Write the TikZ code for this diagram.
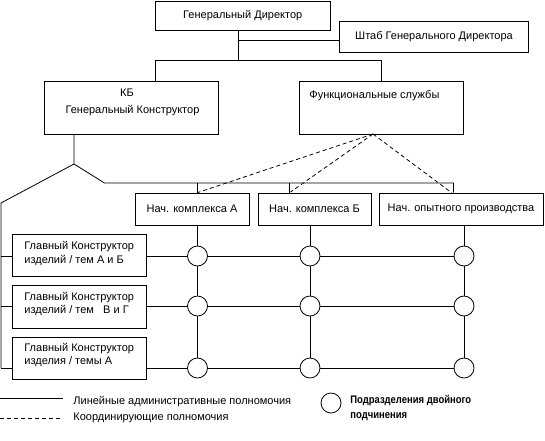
\documentclass[tikz,border=0pt]{standalone}
\usepackage{graphicx}
\usepackage{fontspec}
\setmainfont{Liberation Sans}
\begin{document}
\begin{tikzpicture}[x=1pt,y=-1pt,line width=0.8pt,
  box/.style={draw,rectangle,inner sep=0pt},
  txt/.style={inner sep=0pt,font=\fontsize{11}{13.5}\selectfont},
  dc/.style={draw,circle,fill=white,minimum size=20pt,inner sep=0pt},
  coordline/.style={dash pattern=on 4pt off 3pt}]
\useasboundingbox (0,0) rectangle (545,440);
% boxes
\node[box,txt,minimum width=174.5pt,minimum height=29pt] (gd) at (242.75,15.5) {Генеральный Директор};
\node[box,txt,minimum width=189pt,minimum height=31pt] (sh) at (434,36.5) {Штаб Генерального Директора};
\node[box,minimum width=174pt,minimum height=53pt] (kb) at (131,107.5) {};
\node[txt] (kbt1) at (127,93) {КБ};
\node[txt] (kbt2) at (132.5,111) {Генеральный Конструктор};
\node[box,minimum width=164pt,minimum height=53pt] (fs) at (381,107.5) {};
\node[txt,anchor=west] (fst) at (309,96) {Функциональные службы};
\node[box,txt,minimum width=114pt,minimum height=32pt] (na) at (192,209) {Нач. комплекса А};
\node[box,txt,minimum width=113pt,minimum height=32pt] (nb) at (314.5,209) {Нач. комплекса Б};
\node[box,txt,minimum width=164pt,minimum height=32pt] (nc) at (461,209) {Нач. опытного производства};
\node[box,minimum width=134pt,minimum height=42pt] (l1) at (79.5,255) {};
\node[box,minimum width=134pt,minimum height=43pt] (l2) at (79.5,306.5) {};
\node[box,minimum width=134pt,minimum height=42pt] (l3) at (79.5,358) {};
\node[txt,anchor=west,align=left] (l1t) at (24,253.5) {Главный Конструктор\\изделий / тем А и Б};
\node[txt,anchor=west,align=left] (l2t) at (24,304) {Главный Конструктор\\изделий / тем \ \ В и Г};
\node[txt,anchor=west,align=left] (l3t) at (24,355) {Главный Конструктор\\изделия / темы А};
% junction coordinates
\coordinate (j0) at (238,40);
\coordinate (j1) at (238,60);
\coordinate (j2) at (155.5,60);
\coordinate (j3) at (381,60);
\coordinate (k1) at (74,164);
\coordinate (k2) at (104.5,183);
\coordinate (k3) at (453.5,183);
\coordinate (t1) at (197.5,183);
\coordinate (t2) at (289.5,183);
\coordinate (k4) at (1,203);
\coordinate (k5) at (1,368);
\coordinate (ap) at (373,134);
% circles positions
\coordinate (p11) at (197.5,256); \coordinate (p12) at (310,256); \coordinate (p13) at (464,256);
\coordinate (p21) at (197.5,306); \coordinate (p22) at (310,306); \coordinate (p23) at (464,306);
\coordinate (p31) at (197.5,368); \coordinate (p32) at (310,368); \coordinate (p33) at (464,368);
% solid connectors
\draw (gd.south -| j0) -- (j1);
\draw (j0) -- (j0 -| sh.west);
\draw (kb.north -| j2) -- (j2) -- (j3) -- (fs.north -| j3);
\draw (kb.south -| k1) -- (k1) -- (k2) -- (k3) -- (nc.north -| k3);
\draw (t1) -- (na.north -| t1);
\draw (t2) -- (nb.north -| t2);
\draw (k1) -- (k4) -- (k5);
\draw (p11 -| k4) -- (p11 -| l1.west);
\draw (p21 -| k4) -- (p21 -| l2.west);
\draw (k5) -- (p31 -| l3.west);
\draw (p11 -| l1.east) -- (p13);
\draw (p21 -| l2.east) -- (p23);
\draw (p31 -| l3.east) -- (p33);
\draw (na.south -| p11) -- (p31);
\draw (nb.south -| p12) -- (p32);
\draw (nc.south -| p13) -- (p33);
% dashed connectors
\coordinate (e2) at (290.5,192);
\coordinate (e3) at (452,193);
\draw[coordline] (ap) -- (na.north -| t1);
\draw[coordline] (ap) -- (e2);
\draw[coordline] (ap) -- (e3);
% circles
\foreach \n in {11,12,13,21,22,23,31,32,33} \node[dc] (c\n) at (p\n) {};
% legend
\coordinate (ls1) at (0,398); \coordinate (ls2) at (63,398);
\coordinate (ld1) at (0,418); \coordinate (ld2) at (63,418);
\draw (ls1) -- (ls2);
\draw[coordline] (ld1) -- (ld2);
\node[txt,anchor=west] (lt1) at (73,402) {Линейные административные полномочия};
\node[txt,anchor=west] (lt2) at (73,418) {Координирующие полномочия};
\node[dc] (lc) at (331,403) {};
\node[txt,anchor=west,align=left,font=\fontsize{11}{15}\selectfont\bfseries] (lt3) at (350,407.5) {\scalebox{0.86}[1]{Подразделения двойного}\\\scalebox{0.86}[1]{подчинения}};
\end{tikzpicture}
\end{document}
